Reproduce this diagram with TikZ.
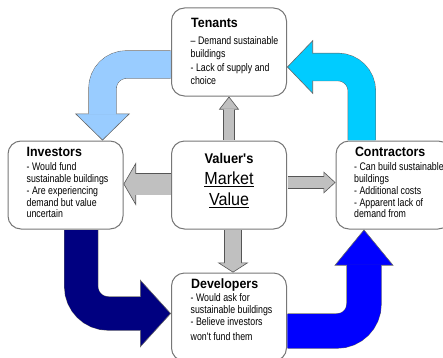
\documentclass[tikz,border=0pt]{standalone}
\usepackage{fontspec}
\newfontfamily\lsans[FakeStretch=0.8]{Liberation Sans}
\newfontfamily\lsanst[FakeStretch=0.92]{Liberation Sans}
\usepackage{tikz}
\usetikzlibrary{positioning, arrows.meta}
\usepackage{xcolor}
\definecolor{lightblue}{HTML}{99CCFF}
\definecolor{skyarrow}{HTML}{00CCFF}
\definecolor{navyarrow}{HTML}{000080}
\definecolor{bluearrow}{HTML}{0000FF}
\definecolor{grayfill}{HTML}{C0C0C0}
\definecolor{grayline}{HTML}{555555}
\definecolor{boxline}{HTML}{777777}

\tikzset{
	box/.style={draw=boxline, line width=1pt, fill=white, rounded corners=13pt,
		minimum width=115pt, minimum height=88pt},
	ttl/.style={font=\lsanst\bfseries\fontsize{13.5}{15}\selectfont, anchor=base west, inner sep=0pt},
	txt/.style={font=\lsans\fontsize{11}{11.9}\selectfont, align=left, anchor=north west, inner sep=0pt},
	% fill, shaft width, head length, head width, outline
	blockarrow/.style n args={5}{line width=#2, draw=#1, shorten <=0.5pt,
		-{Triangle[length=#3, width=#4, line width=0.6pt, color=#5, fill=#1]},
		preaction={draw=#5, line width=#2+1.2pt, -, shorten >=#3},
		postaction={draw=#1, line width=#2, -, shorten >=#3-1pt}}
}

\begin{document}
\begin{tikzpicture}[x=1pt, y=1pt]
	\useasboundingbox (0,0) rectangle (443,357);
	
	\node[box] (val) at (229,172) {};
	\node[box, above=44pt of val] (ten) {};
	\node[box, left=47.5pt of val] (inv) {};
	\node[box, right=48.5pt of val] (con) {};
	\node[box, below=43pt of val] (dev) {};
	
	\draw[blockarrow={lightblue}{27pt}{27pt}{55pt}{black!60}, rounded corners=24pt]
		([yshift=-12.5pt]ten.west) -| ([xshift=37pt]inv.north);
	\draw[blockarrow={skyarrow}{27pt}{26pt}{54pt}{black!60}, rounded corners=24pt]
		([xshift=-31.7pt]con.north) |- ([yshift=-15pt]ten.east);
	\draw[blockarrow={navyarrow}{33pt}{31pt}{68pt}{black!60}, rounded corners=27pt]
		([xshift=15.7pt]inv.south) |- ([yshift=3.5pt]dev.west);
	\draw[blockarrow={bluearrow}{34pt}{36pt}{59pt}{black!60}, rounded corners=27pt]
		([yshift=-14pt]dev.east) -| ([xshift=-29.5pt]con.south);
	
	\draw[blockarrow={grayfill}{10pt}{13pt}{20pt}{grayline}] (val.north) -- (ten.south);
	\draw[blockarrow={grayfill}{21pt}{12.5pt}{43pt}{grayline}] ([yshift=1pt]val.west) -- ([yshift=1pt]inv.east);
	\draw[blockarrow={grayfill}{11pt}{12pt}{22pt}{grayline}] ([yshift=2.5pt]val.east) -- ([yshift=2.5pt]con.west);
	\draw[blockarrow={grayfill}{16pt}{10pt}{31pt}{grayline}] ([xshift=4pt]val.south) -- ([xshift=4pt]dev.north);
	
	\node[font=\lsanst\fontsize{17.5}{21}\selectfont, align=center, anchor=north, inner sep=0pt]
		(valText) at ([yshift=-12.3pt]val.north)
		{{\bfseries\fontsize{14}{21}\selectfont Valuer's}\\\underline{Market}\\\underline{Value}};
	
	\node[ttl] (tenTitle) at ([xshift=20pt,yshift=-20.3pt]ten.north west) {Tenants};
	\node[txt, font=\lsans\fontsize{11}{13.3}\selectfont] (tenText) at ([xshift=19.5pt,yshift=-29pt]ten.north west)
		{– Demand sustainable\\buildings\\- Lack of supply and\\choice};
	
	\node[ttl] (invTitle) at ([xshift=19pt,yshift=-16.3pt]inv.north west) {Investors};
	\node[txt] (invText) at ([xshift=19pt,yshift=-21.7pt]inv.north west)
		{- Would fund\\sustainable buildings\\- Are experiencing\\demand but value\\uncertain};
	
	\node[ttl] (conTitle) at ([xshift=19.3pt,yshift=-15.7pt]con.north west) {Contractors};
	\node[txt] (conText) at ([xshift=18.5pt,yshift=-21.7pt]con.north west)
		{- Can build sustainable\\buildings\\- Additional costs\\- Apparent lack of\\demand from};
	
	\node[ttl] (devTitle) at ([xshift=20pt,yshift=-16.3pt]dev.north west) {Developers};
	\node[txt] (devText) at ([xshift=19.5pt,yshift=-20.7pt]dev.north west)
		{- Would ask for\\sustainable buildings\\- Believe investors\\[3.5pt]won't fund them};
\end{tikzpicture}
\end{document}
